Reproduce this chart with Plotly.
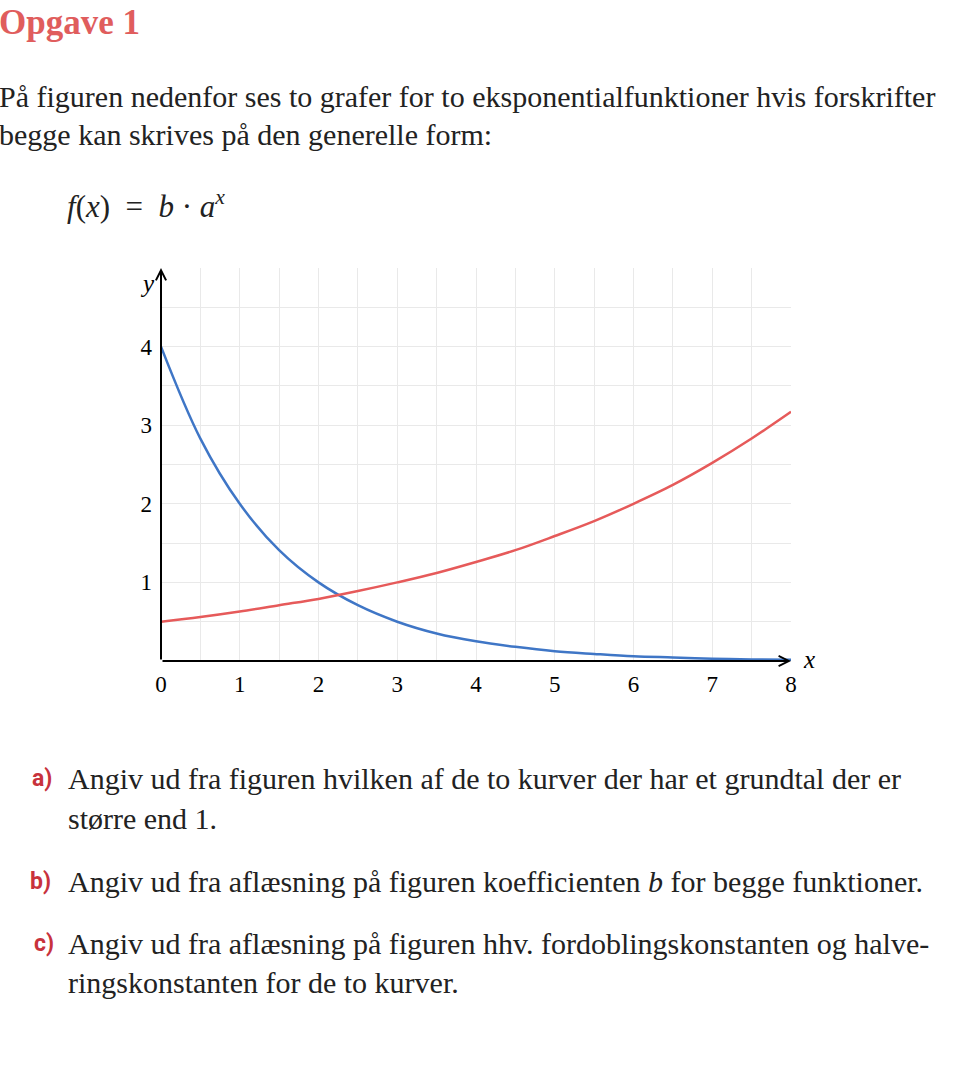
import plotly.graph_objects as go

# page size
W, H = 955, 1083

# values (x in steps of 0.5)
x_pts = [0, 0.5, 1, 1.5, 2, 2.5, 3, 3.5, 4, 4.5, 5, 5.5, 6, 6.5, 7, 7.5, 8]
blue_y = [4.0, 2.83, 2.0, 1.41, 1.0, 0.71, 0.5, 0.35, 0.25, 0.18, 0.125,
          0.09, 0.06, 0.045, 0.03, 0.02, 0.016]
red_y = [0.5, 0.56, 0.63, 0.71, 0.79, 0.89, 1.0, 1.12, 1.26, 1.41, 1.59,
         1.78, 2.0, 2.24, 2.52, 2.83, 3.17]

x_ticks = [0, 1, 2, 3, 4, 5, 6, 7, 8]
y_ticks = [1, 2, 3, 4]

SERIF = "Liberation Serif"
BLUE = "#3f76c6"
RED = "#e65a5a"
LABEL_RED = "#c8323c"


def px(x):
    return x / W


def py(y):
    return 1 - y / H


fig = go.Figure()
fig.add_trace(go.Scatter(x=x_pts, y=blue_y, mode="lines",
                         line=dict(color=BLUE, width=2.5, shape="spline")))
fig.add_trace(go.Scatter(x=x_pts, y=red_y, mode="lines",
                         line=dict(color=RED, width=2.5, shape="spline")))

grid = "#e9e9e9"
fig.update_xaxes(range=[0, 8], domain=[px(161), px(791)],
                 tickvals=x_ticks, showgrid=True, gridcolor=grid, gridwidth=1,
                 minor=dict(dtick=0.5, tick0=0, showgrid=True, gridcolor=grid, gridwidth=1),
                 zeroline=False, showline=False, ticks="",
                 ticklabelstandoff=7,
                 tickfont=dict(family=SERIF, size=23, color="black"))
fig.update_yaxes(range=[0, 5], domain=[py(661), py(268)],
                 tickvals=y_ticks, showgrid=True, gridcolor=grid, gridwidth=1,
                 minor=dict(dtick=0.5, tick0=0, showgrid=True, gridcolor=grid, gridwidth=1),
                 zeroline=False, showline=False, ticks="",
                 ticklabelstandoff=8,
                 tickfont=dict(family=SERIF, size=23, color="black"))

# axes with arrows
fig.add_annotation(x=0, y=5, ax=0, ay=0, xref="x", yref="y", axref="x", ayref="y",
                   text="", showarrow=True, arrowhead=5, arrowwidth=2,
                   arrowsize=1, arrowcolor="black", standoff=0, startstandoff=0)
fig.add_annotation(x=8, y=0, ax=0, ay=0, xref="x", yref="y", axref="x", ayref="y",
                   text="", showarrow=True, arrowhead=5, arrowwidth=2,
                   arrowsize=1, arrowcolor="black", standoff=0, startstandoff=0)

sp = "&nbsp;"
formula = ("<i>f</i>(<i>x</i>)" + sp * 2 + "=" + sp * 2 + "<i>b</i>" + sp + "·" + sp +
           "<i>a</i><sup><i>x</i></sup>")

texts = [
    # (x px, y px, html, size, color, family)
    (-1, 22, "<b>Opgave 1</b>", 35, "#e05d5d", SERIF),
    (-1, 96, "På figuren nedenfor ses to grafer for to eksponentialfunktioner hvis forskrifter", 30, "#222222", SERIF),
    (-1, 134, "begge kan skrives på den generelle form:", 30, "#222222", SERIF),
    (67, 205, formula, 31, "#222222", SERIF),
    (140, 284, "<i>y</i>", 25, "black", SERIF),
    (803, 659, "<i>x</i>", 25, "black", SERIF),
    (32, 778, "<b>a)</b>", 23, LABEL_RED, "Roboto"),
    (68, 778, "Angiv ud fra figuren hvilken af de to kurver der har et grundtal der er", 30, "#222222", SERIF),
    (68, 818, "større end 1.", 30, "#222222", SERIF),
    (30, 881, "<b>b)</b>", 23, LABEL_RED, "Roboto"),
    (68, 881, "Angiv ud fra aflæsning på figuren koefficienten <i>b</i> for begge funktioner.", 30, "#222222", SERIF),
    (34, 943, "<b>c)</b>", 23, LABEL_RED, "Roboto"),
    (68, 943, "Angiv ud fra aflæsning på figuren hhv. fordoblingskonstanten og halve-", 30, "#222222", SERIF),
    (68, 982, "ringskonstanten for de to kurver.", 30, "#222222", SERIF),
]
for tx, ty, t, size, color, fam in texts:
    fig.add_annotation(x=px(tx), y=py(ty), xref="paper", yref="paper",
                       xanchor="left", yanchor="middle", text=t, showarrow=False,
                       borderpad=0, borderwidth=0,
                       font=dict(family=fam, size=size, color=color))

fig.update_layout(width=W, height=H,
                  margin=dict(l=0, r=0, t=0, b=0, autoexpand=False),
                  paper_bgcolor="white", plot_bgcolor="white", showlegend=False)

# drop the page's default body margin so the figure sits at the window corner
fig.write_html("out.html", config={"displayModeBar": False},
               post_script="document.body.style.margin='0px';")
